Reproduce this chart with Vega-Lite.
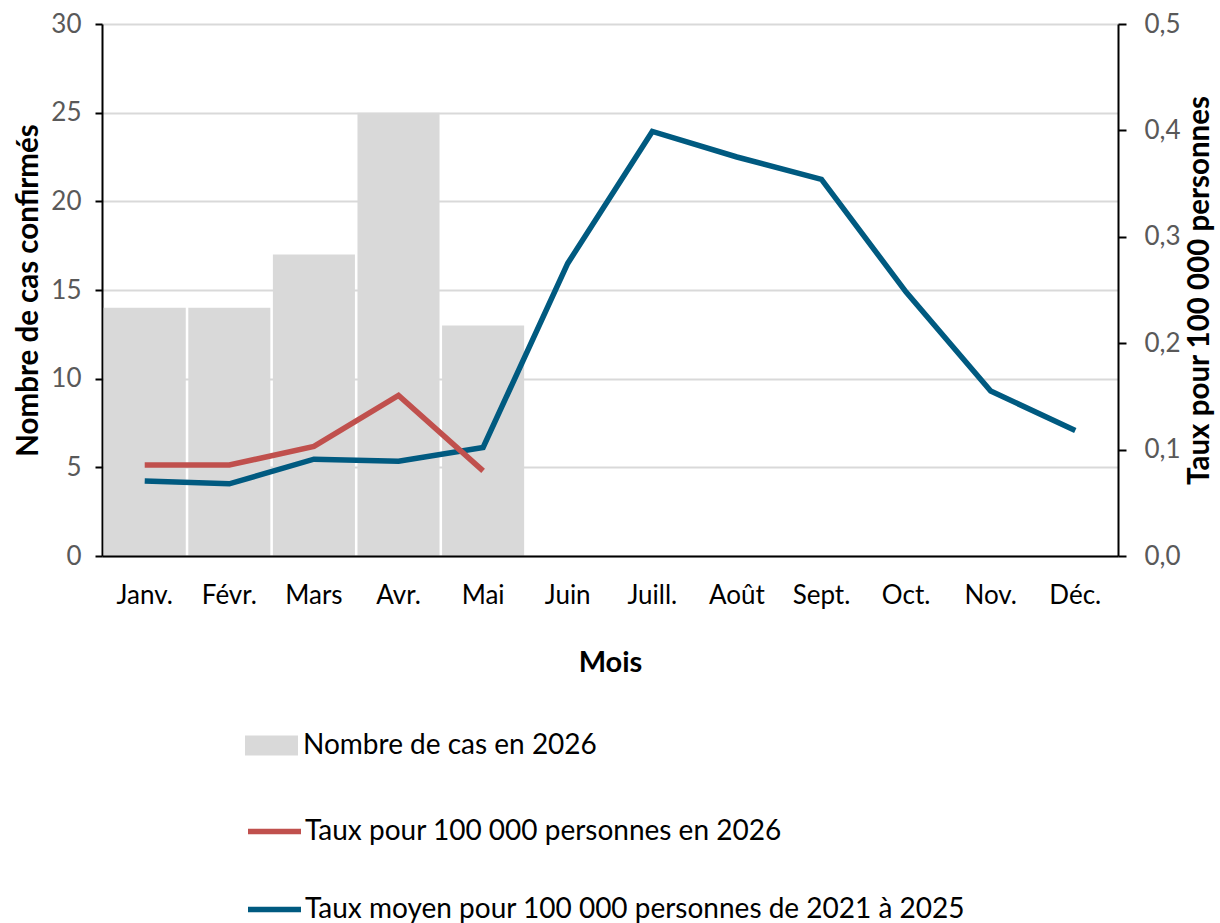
{
  "$schema": "https://vega.github.io/schema/vega-lite/v6.json",
  "width": 1016,
  "height": 532,
  "autosize": {"type": "none"},
  "padding": {"left": 102, "top": 24, "right": 102, "bottom": 367},
  "background": "white",
  "config": {
    "font": "Lato",
    "view": {"stroke": null},
    "legend": {"padding": 0, "titlePadding": 0}
  },
  "datasets": {
    "cas": [
      {"mois": "Janv.", "cas": 14, "serie": "Nombre de cas en 2026"},
      {"mois": "Févr.", "cas": 14, "serie": "Nombre de cas en 2026"},
      {"mois": "Mars", "cas": 17, "serie": "Nombre de cas en 2026"},
      {"mois": "Avr.", "cas": 25, "serie": "Nombre de cas en 2026"},
      {"mois": "Mai", "cas": 13, "serie": "Nombre de cas en 2026"}
    ],
    "taux": [
      {"mois": "Janv.", "taux": 0.0705, "serie": "Taux moyen pour 100 000 personnes de 2021 à 2025"},
      {"mois": "Févr.", "taux": 0.0678, "serie": "Taux moyen pour 100 000 personnes de 2021 à 2025"},
      {"mois": "Mars", "taux": 0.091, "serie": "Taux moyen pour 100 000 personnes de 2021 à 2025"},
      {"mois": "Avr.", "taux": 0.089, "serie": "Taux moyen pour 100 000 personnes de 2021 à 2025"},
      {"mois": "Mai", "taux": 0.102, "serie": "Taux moyen pour 100 000 personnes de 2021 à 2025"},
      {"mois": "Juin", "taux": 0.275, "serie": "Taux moyen pour 100 000 personnes de 2021 à 2025"},
      {"mois": "Juill.", "taux": 0.399, "serie": "Taux moyen pour 100 000 personnes de 2021 à 2025"},
      {"mois": "Août", "taux": 0.375, "serie": "Taux moyen pour 100 000 personnes de 2021 à 2025"},
      {"mois": "Sept.", "taux": 0.354, "serie": "Taux moyen pour 100 000 personnes de 2021 à 2025"},
      {"mois": "Oct.", "taux": 0.248, "serie": "Taux moyen pour 100 000 personnes de 2021 à 2025"},
      {"mois": "Nov.", "taux": 0.155, "serie": "Taux moyen pour 100 000 personnes de 2021 à 2025"},
      {"mois": "Déc.", "taux": 0.118, "serie": "Taux moyen pour 100 000 personnes de 2021 à 2025"},
      {"mois": "Janv.", "taux": 0.0855, "serie": "Taux pour 100 000 personnes en 2026"},
      {"mois": "Févr.", "taux": 0.0855, "serie": "Taux pour 100 000 personnes en 2026"},
      {"mois": "Mars", "taux": 0.103, "serie": "Taux pour 100 000 personnes en 2026"},
      {"mois": "Avr.", "taux": 0.151, "serie": "Taux pour 100 000 personnes en 2026"},
      {"mois": "Mai", "taux": 0.080, "serie": "Taux pour 100 000 personnes en 2026"}
    ]
  },
  "encoding": {
    "x": {
      "field": "mois",
      "type": "nominal",
      "sort": ["Janv.", "Févr.", "Mars", "Avr.", "Mai", "Juin", "Juill.", "Août", "Sept.", "Oct.", "Nov.", "Déc."],
      "scale": {
        "domain": ["Janv.", "Févr.", "Mars", "Avr.", "Mai", "Juin", "Juill.", "Août", "Sept.", "Oct.", "Nov.", "Déc."],
        "paddingInner": 0.03,
        "paddingOuter": 0.02
      },
      "axis": {
        "title": "Mois",
        "titleFontSize": 29,
        "titleFontWeight": "bold",
        "titleColor": "black",
        "titlePadding": 40,
        "labelAngle": 0,
        "labelFontSize": 26,
        "labelColor": "black",
        "labelPadding": 26,
        "ticks": false,
        "domainColor": "black",
        "domainWidth": 2,
        "grid": false,
        "zindex": 1
      }
    }
  },
  "layer": [
    {
      "data": {"name": "cas"},
      "mark": {"type": "bar"},
      "encoding": {
        "y": {
          "field": "cas",
          "type": "quantitative",
          "scale": {"domain": [0, 30], "nice": false},
          "axis": {
            "title": "Nombre de cas confirmés",
            "titleFontSize": 29.5,
            "titleFontWeight": "bold",
            "titleColor": "black",
            "titlePadding": 7,
            "values": [0, 5, 10, 15, 20, 25, 30],
            "labelFontSize": 26,
            "labelColor": "#595959",
            "labelPadding": 14,
            "tickSize": 7,
            "tickColor": "black",
            "tickWidth": 2,
            "domainColor": "black",
            "domainWidth": 2,
            "grid": true,
            "gridColor": "#d9d9d9",
            "gridWidth": 2
          }
        },
        "fill": {
          "field": "serie",
          "type": "nominal",
          "scale": {"domain": ["Nombre de cas en 2026"], "range": ["#d9d9d9"]},
          "legend": {
            "orient": "none",
            "legendX": 143,
            "legendY": 695,
            "title": null,
            "symbolType": "M-1,-0.38H1V0.38H-1Z",
            "symbolSize": 2809,
            "symbolStrokeWidth": 0,
            "labelFontSize": 28,
            "labelLimit": 0,
            "labelColor": "black",
            "labelOffset": 5
          }
        }
      }
    },
    {
      "data": {"name": "taux"},
      "encoding": {
        "y": {
          "field": "taux",
          "type": "quantitative",
          "scale": {"domain": [0, 0.5], "nice": false},
          "axis": {
            "orient": "right",
            "title": "Taux pour 100 000 personnes",
            "titleAngle": 270,
            "titleFontSize": 29.5,
            "titleFontWeight": "bold",
            "titleColor": "black",
            "titlePadding": 34,
            "values": [0, 0.1, 0.2, 0.3, 0.4, 0.5],
            "labelExpr": "replace(format(datum.value, '.1f'), '.', ',')",
            "labelFontSize": 26,
            "labelColor": "#595959",
            "labelPadding": 18,
            "tickSize": 8,
            "tickColor": "black",
            "tickWidth": 2,
            "domainColor": "black",
            "domainWidth": 2,
            "grid": false
          }
        },
        "stroke": {
          "field": "serie",
          "type": "nominal",
          "scale": {
            "domain": ["Taux pour 100 000 personnes en 2026", "Taux moyen pour 100 000 personnes de 2021 à 2025"],
            "range": ["#c0504d", "#005a80"]
          },
          "legend": {
            "orient": "none",
            "legendX": 143,
            "legendY": 778,
            "direction": "vertical",
            "title": null,
            "symbolType": "stroke",
            "symbolSize": 2809,
            "symbolStrokeWidth": 5.5,
            "rowPadding": 34,
            "labelFontSize": 28,
            "labelLimit": 0,
            "labelColor": "black",
            "labelOffset": 1
          }
        }
      },
      "layer": [
        {
          "transform": [{"filter": "datum.serie === 'Taux moyen pour 100 000 personnes de 2021 à 2025'"}],
          "mark": {"type": "line", "strokeWidth": 5.5}
        },
        {
          "transform": [{"filter": "datum.serie === 'Taux pour 100 000 personnes en 2026'"}],
          "mark": {"type": "line", "strokeWidth": 5.5}
        }
      ]
    }
  ],
  "resolve": {"scale": {"y": "independent"}}
}
